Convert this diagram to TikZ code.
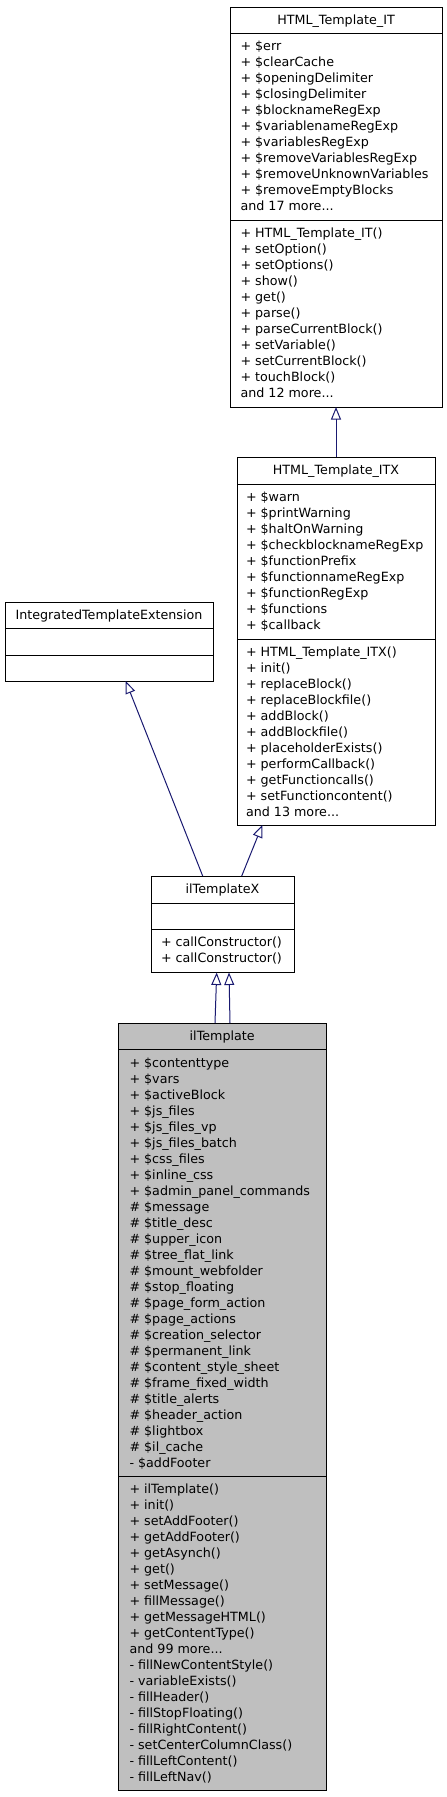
\documentclass[tikz,border=0pt]{standalone}
\usepackage{fontspec}
\setmainfont{DejaVu Sans}
\usetikzlibrary{arrows.meta}
\definecolor{edgeblue}{RGB}{25,25,112}
\definecolor{classgray}{RGB}{191,191,191}
\tikzset{
  umltext/.style={anchor=base west, inner sep=0pt, outer sep=0pt, font=\fontsize{12.7}{16}\selectfont},
  umltitle/.style={anchor=base, inner sep=0pt, outer sep=0pt, font=\fontsize{12.7}{16}\selectfont},
  classbox/.style={draw=black, line width=1pt, anchor=north west, inner sep=0pt, outer sep=0pt},
  sepline/.style={draw=black, line width=1pt},
  inh/.style={draw=edgeblue, line width=1pt, -{Triangle[open, length=12.5pt, width=10pt]}}
}
\newcommand\tdots{...}
\newcommand\classlines[4]{%
  \foreach \t [count=\i from 0] in {#4} {
    \node[umltext] (#1-\i) at (#2, {-(#3)-16*\i}) {\t};
  }%
}
\begin{document}
\begin{tikzpicture}[x=1pt,y=1pt]
\useasboundingbox (0,0) rectangle (447,-1797);

% HTML_Template_IT
\node[classbox, minimum width=212pt, minimum height=400pt] (it) at (230,-7) {};
\draw[sepline] ([yshift=-26pt]it.north west) -- ([yshift=-26pt]it.north east);
\draw[sepline] ([yshift=-213pt]it.north west) -- ([yshift=-213pt]it.north east);
\node[umltitle] (it-title) at (336,-24.5) {HTML\_Template\_IT};
\classlines{ita}{240.5}{50.5}{+ \$err, + \$clearCache, + \$openingDelimiter, + \$closingDelimiter, + \$blocknameRegExp, + \$variablenameRegExp, + \$variablesRegExp, + \$removeVariablesRegExp, + \$removeUnknownVariables, + \$removeEmptyBlocks, and 17 more\tdots}
\classlines{itm}{240.5}{237.5}{+ HTML\_Template\_IT(), + setOption(), + setOptions(), + show(), + get(), + parse(), + parseCurrentBlock(), + setVariable(), + setCurrentBlock(), + touchBlock(), and 12 more\tdots}

% HTML_Template_ITX
\node[classbox, minimum width=198pt, minimum height=368pt] (itx) at (237,-457) {};
\draw[sepline] ([yshift=-27pt]itx.north west) -- ([yshift=-27pt]itx.north east);
\draw[sepline] ([yshift=-182pt]itx.north west) -- ([yshift=-182pt]itx.north east);
\node[umltitle] (itx-title) at (336,-474.5) {HTML\_Template\_ITX};
\classlines{itxa}{246}{501.5}{+ \$warn, + \$printWarning, + \$haltOnWarning, + \$checkblocknameRegExp, + \$functionPrefix, + \$functionnameRegExp, + \$functionRegExp, + \$functions, + \$callback}
\classlines{itxm}{246}{656.5}{+ HTML\_Template\_ITX(), + init(), + replaceBlock(), + replaceBlockfile(), + addBlock(), + addBlockfile(), + placeholderExists(), + performCallback(), + getFunctioncalls(), + setFunctioncontent(), and 13 more\tdots}

% IntegratedTemplateExtension
\node[classbox, minimum width=208pt, minimum height=79pt] (ite) at (5,-602) {};
\draw[sepline] ([yshift=-26pt]ite.north west) -- ([yshift=-26pt]ite.north east);
\draw[sepline] ([yshift=-53pt]ite.north west) -- ([yshift=-53pt]ite.north east);
\node[umltitle] (ite-title) at (109,-619.5) {IntegratedTemplateExtension};

% ilTemplateX
\node[classbox, minimum width=143pt, minimum height=96.5pt] (iltx) at (151,-876) {};
\draw[sepline] ([yshift=-27pt]iltx.north west) -- ([yshift=-27pt]iltx.north east);
\draw[sepline] ([yshift=-53pt]iltx.north west) -- ([yshift=-53pt]iltx.north east);
\node[umltitle] (iltx-title) at (222.5,-893.5) {ilTemplateX};
\classlines{iltxm}{161}{946.5}{+ callConstructor(), + callConstructor()}

% ilTemplate
\node[classbox, fill=classgray, minimum width=208.5pt, minimum height=767.5pt] (ilt) at (118,-1023) {};
\draw[sepline] ([yshift=-26.5pt]ilt.north west) -- ([yshift=-26.5pt]ilt.north east);
\draw[sepline] ([yshift=-453pt]ilt.north west) -- ([yshift=-453pt]ilt.north east);
\node[umltitle] (ilt-title) at (222.2,-1040.5) {ilTemplate};
\classlines{ilta}{129.5}{1067}{+ \$contenttype, + \$vars, + \$activeBlock, + \$js\_files, + \$js\_files\_vp, + \$js\_files\_batch, + \$css\_files, + \$inline\_css, + \$admin\_panel\_commands, \# \$message, \# \$title\_desc, \# \$upper\_icon, \# \$tree\_flat\_link, \# \$mount\_webfolder, \# \$stop\_floating, \# \$page\_form\_action, \# \$page\_actions, \# \$creation\_selector, \# \$permanent\_link, \# \$content\_style\_sheet, \# \$frame\_fixed\_width, \# \$title\_alerts, \# \$header\_action, \# \$lightbox, \# \$il\_cache, - \$addFooter}
\classlines{iltm}{129.5}{1493.5}{+ ilTemplate(), + init(), + setAddFooter(), + getAddFooter(), + getAsynch(), + get(), + setMessage(), + fillMessage(), + getMessageHTML(), + getContentType(), and 99 more\tdots, - fillNewContentStyle(), - variableExists(), - fillHeader(), - fillStopFloating(), - fillRightContent(), - setCenterColumnClass(), - fillLeftContent(), - fillLeftNav()}

% Inheritance connectors
\coordinate (e1s) at ([xshift=51.7pt]iltx.north west);
\coordinate (e1t) at ([xshift=120.7pt]ite.south west);
\coordinate (e2s) at ([xshift=90.7pt]iltx.north west);
\coordinate (e2t) at ([xshift=25.3pt]itx.south west);
\coordinate (e3s) at ([xshift=97pt]ilt.north west);
\coordinate (e3t) at ([xshift=65.7pt]iltx.south west);
\coordinate (e4s) at ([xshift=112pt]ilt.north west);
\coordinate (e4t) at ([xshift=78pt]iltx.south west);
\draw[inh] (itx.north) -- (it.south);
\draw[inh] (e1s) -- (e1t);
\draw[inh] (e2s) -- (e2t);
\draw[inh] (e3s) -- (e3t);
\draw[inh] (e4s) -- (e4t);
\end{tikzpicture}
\end{document}
